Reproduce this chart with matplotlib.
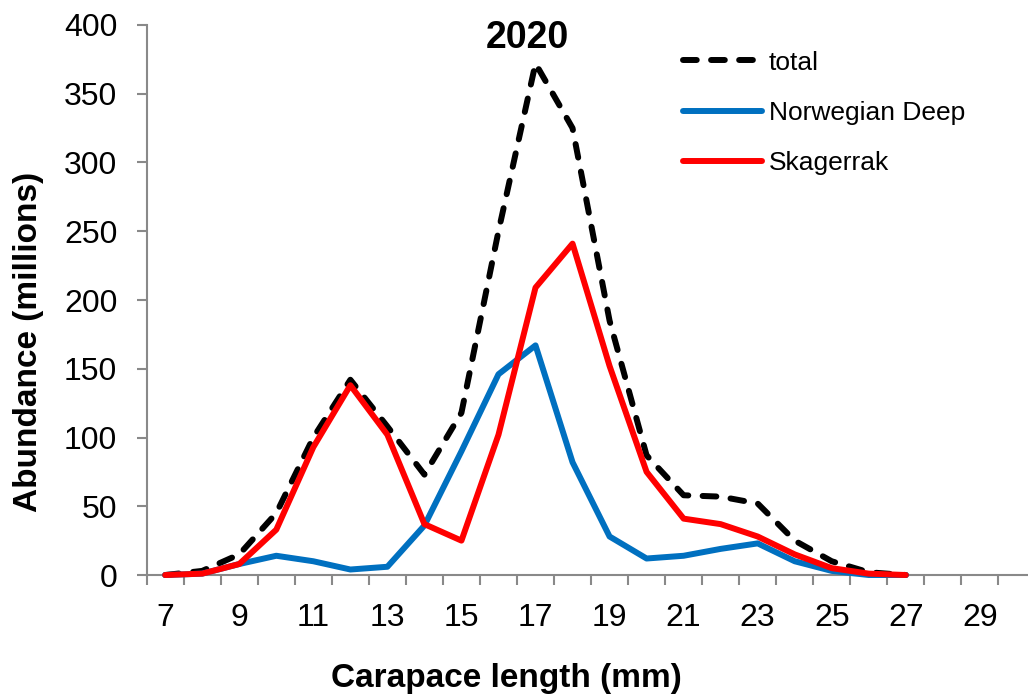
import matplotlib
matplotlib.use("Agg")
from matplotlib import pyplot as plt
import numpy as np

plt.rcParams['font.family'] = ['Liberation Sans', 'DejaVu Sans']

# carapace length classes (mm)
lengths = list(range(7, 28))

total = [0, 3, 15, 45, 100, 142, 108, 73, 118, 250, 372, 325, 185, 87, 58, 57, 52, 25, 10, 2, 0]
norwegian_deep = [0, 1, 8, 14, 10, 4, 6, 36, 90, 146, 167, 82, 28, 12, 14, 19, 23, 10, 3, 0, 0]
skagerrak = [0, 1, 8, 33, 93, 138, 102, 37, 25, 102, 209, 241, 152, 75, 41, 37, 28, 15, 5, 1, 0]

x_labels = list(range(7, 30, 2))
y_ticks = list(range(0, 401, 50))

grey = "#898989"
lw = 4.3

fig = plt.figure(figsize=(10.28, 6.98), dpi=100)
ax = fig.add_axes([0.1427, 0.1762, 0.8573, 0.788])

ax.plot(lengths, total, color="black", lw=lw, dashes=(2.3, 2.4), dash_capstyle="round",
        label="total", clip_on=False, zorder=3)
ax.plot(lengths, norwegian_deep, color="#0070C0", lw=lw, solid_capstyle="round",
        label="Norwegian Deep", clip_on=False, zorder=4)
ax.plot(lengths, skagerrak, color="#FF0000", lw=lw, solid_capstyle="round",
        label="Skagerrak", clip_on=False, zorder=5)

ax.set_xlim(6.5, 30.3)
ax.set_ylim(0, 400)

# axes appearance, excel-like
for side in ["top", "right"]:
    ax.spines[side].set_visible(False)
for side in ["left", "bottom"]:
    ax.spines[side].set_color(grey)
    ax.spines[side].set_linewidth(1.5)

ax.set_yticks(y_ticks)
ax.tick_params(axis="y", labelsize=23, length=7.2, width=1.5, color=grey, pad=14)
ax.set_xticks(x_labels)
ax.set_xticks(np.arange(6.5, 30, 1), minor=True)
ax.tick_params(axis="x", which="major", labelsize=23, length=0, pad=20)
ax.tick_params(axis="x", which="minor", length=7.2, width=1.5, color=grey)

fig.text(506 / 1028, 1 - 678 / 698, "Carapace length (mm)", fontsize=24, fontweight="bold",
         ha="center", va="center")
fig.text(29 / 1028, 1 - 342 / 698, "Abundance (millions)", fontsize=24, fontweight="bold",
         ha="center", va="center", rotation=90)
fig.text(527 / 1028, 1 - 48 / 698, "2020", fontsize=27, fontweight="bold",
         ha="center", va="baseline")

ax.legend(loc="center left", bbox_to_anchor=(683 / 1028, 1 - 113 / 698),
          bbox_transform=fig.transFigure, frameon=False, fontsize=19,
          handlelength=3.0, handletextpad=0.25, labelspacing=1.0,
          borderpad=0, borderaxespad=0)

fig.savefig("out.png", dpi=100)
